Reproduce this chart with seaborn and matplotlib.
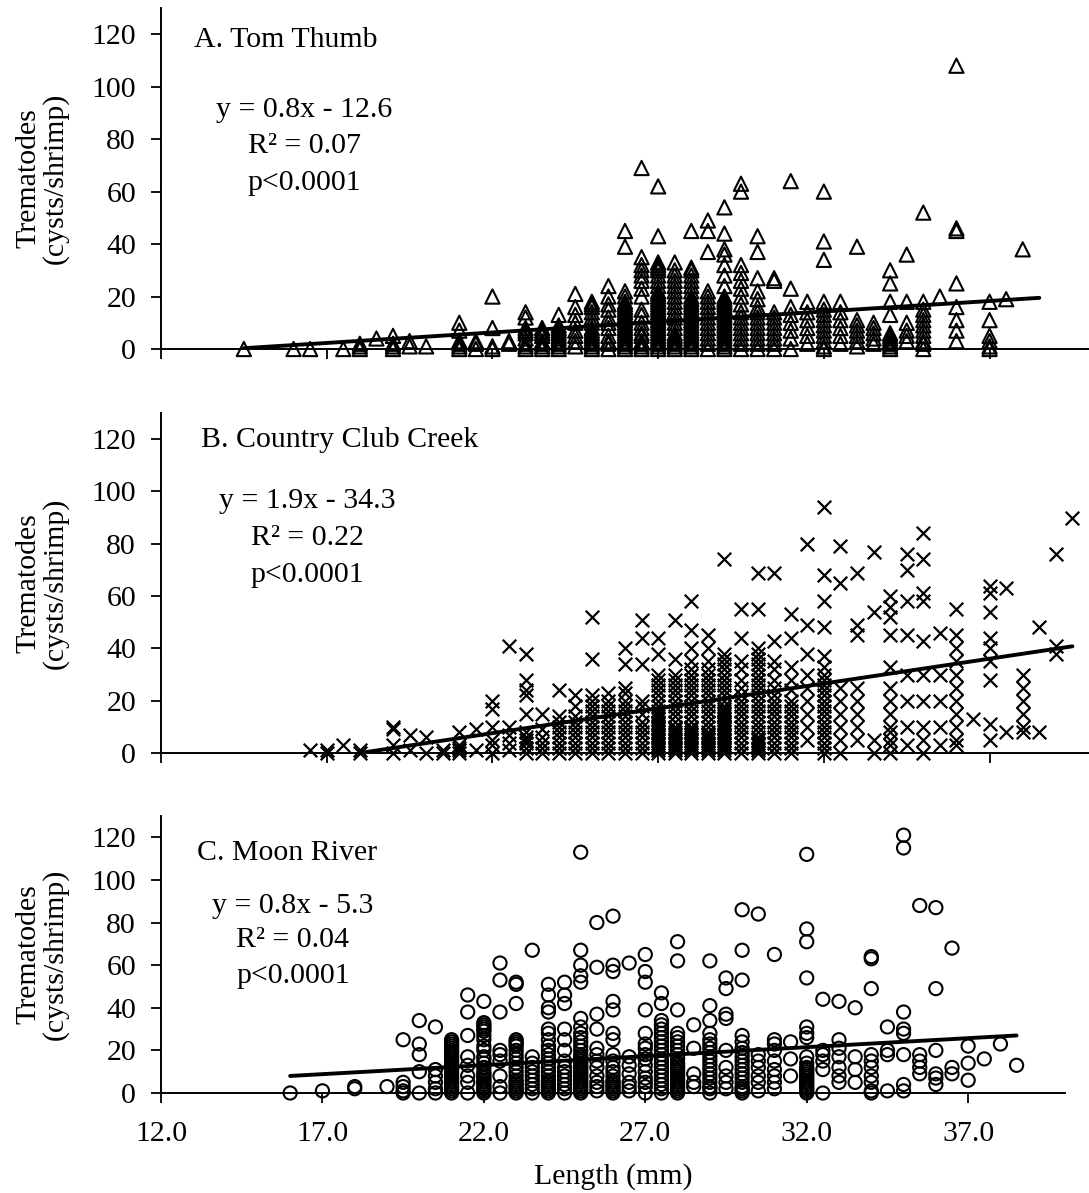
import matplotlib
matplotlib.use("Agg")
import matplotlib.pyplot as plt
import pandas as pd
import seaborn as sns

# ---------------- data ----------------
a_lengths = [14.5, 16.0, 16.5, 17.5, 18.0, 18.5, 19.0, 19.5, 20.0, 21.0, 21.5, 22.0, 22.5,
             23.0, 23.5, 24.0, 24.5, 25.0, 25.5, 26.0, 26.5, 27.0, 27.5, 28.0, 28.5, 29.0,
             29.5, 30.0, 30.5, 31.0, 31.5, 32.0, 32.5, 33.0, 33.5, 34.0, 34.5, 35.0, 35.5,
             36.0, 37.0, 37.5, 38.0]
a_cysts = [
    [0], [0], [0], [0], [0, 1, 2], [4], [0, 1, 2, 5], [1, 3], [1],
    [0, 1, 2, 3, 7, 10], [0, 2, 3], [0, 1, 8, 20], [2, 3],
    [0, 1, 2, 4, 6, 7, 8, 12, 14], [0, 1, 2, 3, 5, 6, 7, 8],
    [0, 1, 2, 3, 4, 5, 6, 7, 8, 9, 13], [1, 3, 5, 7, 10, 13, 16, 21],
    [0, 1, 2, 3, 4, 5, 6, 7, 8, 10, 12, 14, 16, 17, 18],
    [0, 2, 3, 5, 8, 10, 12, 15, 17, 20, 24],
    [0, 1, 2, 3, 4, 5, 6, 7, 8, 9, 10, 11, 12, 13, 14, 15, 16, 17, 18, 20, 22, 39, 45],
    [0, 1, 2, 3, 5, 6, 8, 10, 13, 15, 20, 23, 26, 28, 30, 32, 35, 69],
    [0, 1, 2, 3, 4, 5, 6, 7, 8, 9, 10, 11, 12, 13, 14, 15, 16, 17, 18, 19, 20, 21, 22,
     24, 26, 28, 30, 31, 32, 33, 43, 62],
    [0, 1, 2, 3, 4, 5, 6, 8, 10, 12, 14, 16, 18, 20, 22, 24, 26, 28, 30, 33],
    [0, 1, 2, 3, 4, 5, 6, 7, 8, 9, 10, 11, 12, 13, 14, 15, 16, 17, 18, 19, 20, 22, 24,
     26, 28, 30, 31, 45],
    [0, 2, 4, 6, 8, 10, 12, 14, 16, 18, 20, 22, 37, 45, 49],
    [0, 1, 2, 3, 4, 5, 6, 7, 8, 9, 10, 11, 12, 13, 14, 15, 16, 17, 18, 19, 20, 24, 28,
     32, 36, 38, 44, 54],
    [0, 2, 4, 6, 8, 10, 12, 14, 17, 20, 23, 26, 29, 32, 60, 63],
    [0, 2, 4, 6, 8, 10, 12, 14, 16, 19, 22, 27, 37, 43],
    [0, 2, 4, 6, 8, 10, 12, 14, 26, 27],
    [0, 4, 7, 10, 13, 16, 23, 64],
    [2, 5, 8, 11, 14, 18],
    [0, 1, 3, 5, 7, 9, 11, 13, 15, 18, 34, 41, 60],
    [2, 5, 8, 11, 14, 18],
    [1, 3, 5, 7, 9, 11, 39],
    [2, 4, 6, 8, 10],
    [0, 1, 2, 3, 4, 5, 6, 13, 18, 25, 30],
    [3, 5, 7, 10, 18, 36],
    [0, 2, 3, 5, 7, 9, 11, 13, 15, 18, 52],
    [20],
    [3, 7, 11, 16, 25, 45, 46, 108],
    [0, 1, 3, 5, 11, 18],
    [19],
    [38],
]

b_lengths = [16.5, 17.0, 17.5, 18.0, 19.0, 19.5, 20.0, 20.5, 21.0, 21.5, 22.0, 22.5, 23.0,
             23.5, 24.0, 24.5, 25.0, 25.5, 26.0, 26.5, 27.0, 27.5, 28.0, 28.5, 29.0, 29.5,
             30.0, 30.5, 31.0, 31.5, 32.0, 32.5, 33.0, 33.5, 34.0, 34.5, 35.0, 35.5, 36.0,
             36.5, 37.0, 37.5, 38.0, 38.5, 39.0, 39.5]
b_cysts = [
    [1], [0, 1], [3], [0, 1], [0, 3, 9, 10], [1, 7], [0, 6], [0, 1], [0, 1, 2, 3, 8],
    [1, 9], [0, 3, 5, 10, 17, 20], [1, 4, 7, 10, 41],
    [0, 2, 4, 5, 6, 8, 15, 22, 24, 28, 38], [0, 2, 4, 6, 9, 15],
    [0, 2, 4, 6, 8, 10, 12, 14, 24], [0, 2, 4, 6, 8, 10, 12, 14, 18, 22],
    [0, 2, 4, 6, 8, 10, 12, 14, 16, 18, 20, 22, 36, 52],
    [0, 2, 4, 6, 8, 10, 12, 14, 16, 18, 20, 23],
    [0, 2, 4, 6, 8, 10, 12, 14, 16, 18, 20, 23, 25, 34, 40],
    [0, 2, 4, 6, 8, 10, 12, 15, 18, 20, 34, 44, 51],
    [0, 1, 2, 3, 4, 5, 6, 7, 8, 9, 10, 11, 12, 13, 14, 15, 16, 18, 20, 22, 24, 26, 28,
     30, 38, 44],
    [0, 1, 2, 3, 4, 5, 6, 7, 8, 9, 10, 12, 14, 16, 18, 20, 22, 24, 26, 28, 30, 36, 51],
    [0, 1, 2, 3, 4, 5, 6, 7, 8, 9, 10, 12, 14, 16, 18, 20, 22, 24, 26, 28, 30, 32, 35,
     40, 47, 58],
    [0, 1, 2, 3, 4, 5, 6, 7, 8, 10, 12, 14, 16, 18, 20, 22, 24, 26, 28, 30, 32, 35, 40, 45],
    [0, 1, 2, 3, 4, 5, 6, 7, 8, 9, 10, 11, 12, 13, 14, 15, 16, 17, 18, 20, 22, 24, 26,
     28, 30, 32, 34, 36, 38, 74],
    [0, 2, 4, 6, 8, 10, 12, 14, 16, 18, 20, 22, 25, 28, 32, 35, 44, 55],
    [0, 1, 2, 3, 4, 5, 6, 8, 10, 12, 14, 16, 18, 20, 22, 24, 26, 28, 30, 32, 34, 36, 38,
     40, 55, 69],
    [0, 2, 4, 6, 8, 10, 12, 14, 16, 18, 20, 22, 25, 28, 32, 35, 43, 69],
    [0, 2, 4, 6, 8, 10, 12, 14, 16, 18, 20, 24, 28, 33, 44, 53],
    [5, 10, 15, 20, 25, 30, 38, 49, 80],
    [0, 2, 4, 6, 8, 10, 12, 14, 16, 18, 20, 22, 24, 26, 28, 30, 33, 37, 48, 58, 68, 94],
    [0, 5, 10, 15, 20, 25, 65, 79],
    [5, 10, 15, 20, 25, 45, 49, 69],
    [0, 5, 54, 77],
    [0, 3, 5, 8, 10, 15, 20, 25, 33, 45, 52, 56, 60],
    [3, 10, 20, 30, 45, 58, 70, 76],
    [0, 5, 10, 20, 30, 43, 58, 61, 74, 84],
    [3, 10, 20, 30, 46],
    [3, 5, 10, 15, 20, 25, 30, 35, 40, 45, 55],
    [13],
    [5, 11, 28, 35, 40, 44, 54, 61, 64],
    [8, 63],
    [8, 10, 15, 20, 25, 30],
    [8, 48],
    [38, 41, 76],
    [90],
]

c_lengths = [16.0, 17.0, 18.0, 19.0, 19.5, 20.0, 20.5, 21.0, 21.5, 22.0, 22.5, 23.0, 23.5,
             24.0, 24.5, 25.0, 25.5, 26.0, 26.5, 27.0, 27.5, 28.0, 28.5, 29.0, 29.5, 30.0,
             30.5, 31.0, 31.5, 32.0, 32.5, 33.0, 33.5, 34.0, 34.5, 35.0, 35.5, 36.0, 36.5,
             37.0, 37.5, 38.0, 38.5]
c_cysts = [
    [0], [1], [2, 3], [3], [0, 1, 3, 5, 25], [0, 10, 18, 23, 34], [0, 2, 5, 8, 11, 31],
    [0, 1, 2, 3, 4, 5, 6, 7, 8, 9, 10, 11, 12, 13, 14, 15, 16, 17, 18, 19, 20, 21, 22, 23,
     24, 25],
    [0, 5, 8, 13, 17, 27, 38, 46],
    [0, 1, 2, 3, 4, 5, 6, 7, 8, 9, 10, 12, 14, 16, 17, 20, 22, 25, 27, 29, 30, 31, 32,
     33, 43],
    [0, 3, 8, 15, 18, 20, 38, 53, 61],
    [0, 1, 2, 3, 4, 5, 6, 8, 10, 12, 14, 16, 18, 20, 22, 23, 24, 25, 42, 51, 52],
    [0, 2, 4, 6, 8, 10, 12, 14, 17, 67],
    [0, 1, 2, 3, 4, 5, 6, 8, 10, 12, 14, 16, 18, 20, 22, 25, 28, 30, 38, 40, 46, 51],
    [0, 2, 4, 6, 8, 10, 12, 15, 20, 25, 30, 42, 46, 52],
    [0, 1, 2, 3, 4, 5, 6, 7, 8, 9, 10, 11, 12, 13, 14, 15, 16, 17, 18, 20, 22, 24, 26,
     28, 31, 35, 52, 55, 60, 67, 113],
    [1, 3, 5, 8, 12, 15, 18, 21, 30, 37, 59, 80],
    [0, 1, 2, 3, 4, 5, 6, 8, 10, 12, 15, 18, 25, 28, 39, 43, 57, 60, 83],
    [1, 3, 5, 9, 13, 17, 61],
    [0, 3, 5, 7, 10, 13, 16, 18, 21, 23, 28, 39, 52, 57, 65],
    [0, 2, 4, 6, 8, 10, 12, 14, 16, 18, 20, 22, 24, 26, 28, 30, 32, 34, 42, 47],
    [0, 1, 2, 3, 4, 5, 6, 7, 8, 9, 10, 11, 12, 13, 14, 16, 18, 20, 22, 24, 26, 28, 39,
     62, 71],
    [3, 5, 9, 21, 32],
    [0, 2, 3, 5, 7, 9, 11, 13, 15, 17, 19, 21, 23, 25, 28, 34, 41, 62],
    [2, 5, 8, 12, 20, 35, 37, 49, 54],
    [0, 1, 2, 3, 5, 7, 9, 11, 13, 15, 17, 19, 21, 24, 27, 53, 67, 86],
    [1, 5, 8, 12, 15, 18, 84],
    [2, 5, 8, 11, 15, 20, 23, 25, 65],
    [8, 16, 24],
    [0, 1, 2, 3, 4, 5, 6, 7, 8, 9, 10, 11, 12, 14, 17, 26, 28, 31, 54, 71, 77, 112],
    [0, 11, 15, 18, 20, 44],
    [5, 8, 12, 17, 21, 25, 43],
    [5, 11, 17, 40],
    [0, 1, 5, 8, 12, 15, 18, 49, 63, 64],
    [1, 18, 20, 31],
    [1, 4, 18, 28, 30, 38, 115, 121],
    [9, 12, 15, 18, 88],
    [4, 7, 9, 20, 49, 87],
    [9, 12, 68],
    [6, 14, 22],
    [16],
    [23],
    [13],
]

# fitted trend lines (end points as drawn)
a_trend_x, a_trend_y = [14.5, 38.5], [0.3, 19.5]
b_trend_x, b_trend_y = [18.0, 39.5], [0.0, 40.8]
c_trend_x, c_trend_y = [16.0, 38.5], [8.0, 27.0]

panel_titles = ["A. Tom Thumb", "B. Country Club Creek", "C. Moon River"]
equations = ["y = 0.8x - 12.6", "y = 1.9x - 34.3", "y = 0.8x - 5.3"]
r_squared = ["R² = 0.07", "R² = 0.22", "R² = 0.04"]
p_values = ["p<0.0001", "p<0.0001", "p<0.0001"]
x_ticks = [12.0, 17.0, 22.0, 27.0, 32.0, 37.0]
y_ticks = [0, 20, 40, 60, 80, 100, 120]
y_label = "Trematodes\n(cysts/shrimp)"
x_label = "Length (mm)"


def expand(lengths, cysts):
    xs, ys = [], []
    for L, col in zip(lengths, cysts):
        xs += [L] * len(col)
        ys += list(col)
    return pd.DataFrame({"Length": xs, "Trematodes": ys})


sns.set_theme(style="ticks")
plt.rcParams["font.family"] = ["Liberation Serif", "DejaVu Serif"]
plt.rcParams["text.color"] = "black"
plt.rcParams["axes.labelcolor"] = "black"
plt.rcParams["xtick.color"] = "black"
plt.rcParams["ytick.color"] = "black"
plt.rcParams["axes.edgecolor"] = "black"

W, H = 1089, 1193
fig = plt.figure(figsize=(W / 100, H / 100), dpi=100)

# axes rectangles in pixels: left, top, right, bottom
rects = [(161, 8, 1089, 349), (161, 413, 1089, 753), (161, 816, 1065, 1093)]
datasets = [expand(a_lengths, a_cysts), expand(b_lengths, b_cysts), expand(c_lengths, c_cysts)]
trends = [(a_trend_x, a_trend_y), (b_trend_x, b_trend_y), (c_trend_x, c_trend_y)]
markers = ["^", "x", "o"]
sizes = [105, 95, 90]

# text anchors in pixels: title (left x, baseline), stats block center x, baselines
title_pos = [(194, 47), (201, 447), (197, 860)]
stat_x = [304, 307, 293]
stat_base = [(117, 153, 190), (508, 545, 582), (913, 947, 983)]

FS = 21.5
for i, ((l, t, r, b), df) in enumerate(zip(rects, datasets)):
    ax = fig.add_axes([l / W, 1 - b / H, (r - l) / W, (b - t) / H])
    if markers[i] == "x":
        sns.scatterplot(data=df, x="Length", y="Trematodes", ax=ax, marker="x",
                        color="black", s=sizes[i], linewidth=1.6, clip_on=False)
    else:
        sns.scatterplot(data=df, x="Length", y="Trematodes", ax=ax, marker=markers[i],
                        facecolor="none", edgecolor="black", s=sizes[i],
                        linewidth=1.5, clip_on=False)
    tx, ty = trends[i]
    sns.lineplot(x=tx, y=ty, ax=ax, color="black", linewidth=2.8)
    ax.set_xlim(12, 40)
    ax.set_ylim(0, 130)
    ax.set_xticks(x_ticks)
    ax.set_yticks(y_ticks)
    ax.set_yticklabels([str(v) for v in y_ticks], fontsize=FS, color="black")
    if i == 2:
        ax.set_xticklabels([f"{v:.1f}" for v in x_ticks], fontsize=FS, color="black")
    else:
        ax.set_xticklabels([])
    ax.tick_params(axis="both", direction="out", length=7, width=1.3, color="black")
    ax.tick_params(axis="y", pad=11)
    ax.tick_params(axis="x", pad=13)
    for s in ["top", "right"]:
        ax.spines[s].set_visible(False)
    for s in ["left", "bottom"]:
        ax.spines[s].set_linewidth(1.4)
        ax.spines[s].set_color("black")
    ax.set_xlabel("")
    ax.set_ylabel("")

    fig.text(title_pos[i][0] / W, 1 - title_pos[i][1] / H, panel_titles[i],
             fontsize=FS, ha="left", va="baseline", color="black")
    for txt, yb in zip([equations[i], r_squared[i], p_values[i]], stat_base[i]):
        fig.text(stat_x[i] / W, 1 - yb / H, txt, fontsize=FS, ha="center",
                 va="baseline", color="black")
    fig.text(42 / W, 1 - ((t + b) / 2) / H, y_label, fontsize=FS, rotation=90,
             ha="center", va="center", multialignment="center", linespacing=1.0,
             color="black")

fig.text(613 / W, 1 - 1184 / H, x_label, fontsize=FS, ha="center", va="baseline",
         color="black")

fig.savefig("out.png", dpi=100)
